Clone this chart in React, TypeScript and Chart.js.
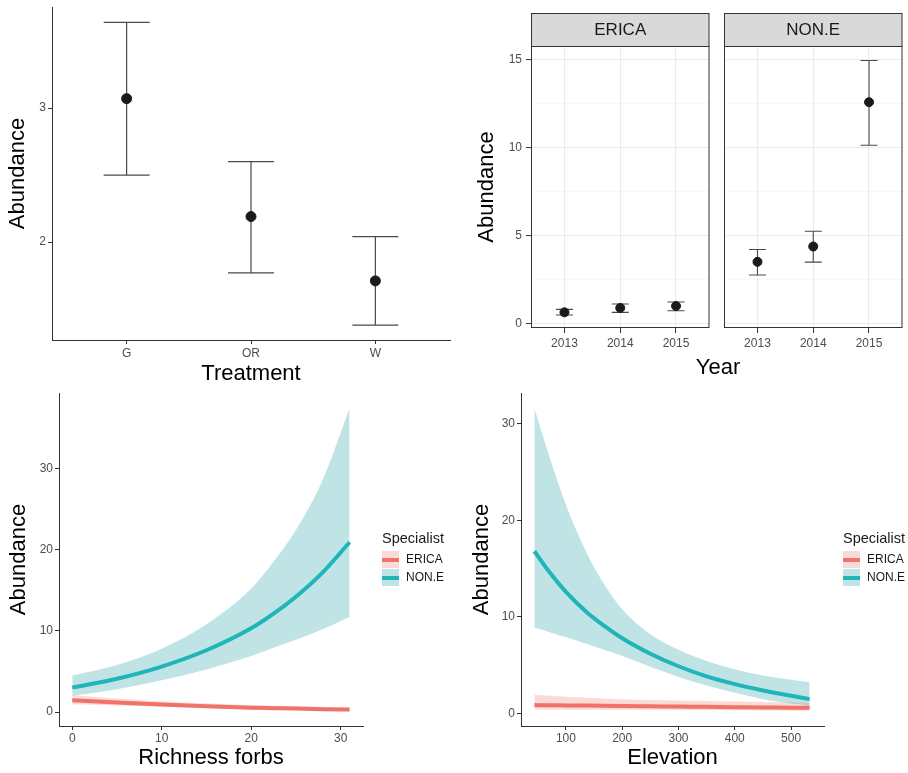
import React, { useEffect, useRef } from 'react';
import { Chart, registerables } from 'chart.js';

Chart.register(...registerables);

// ---------------- data ----------------
const treatments = ['G', 'OR', 'W'];
const treatmentMean = [3.07, 2.19, 1.71];
const treatmentLower = [2.5, 1.77, 1.38];
const treatmentUpper = [3.64, 2.6, 2.04];
const treatmentYTicks = [2, 3];

const years = [2013, 2014, 2015];
const ericaYearMean = [0.66, 0.91, 1.02];
const ericaYearLower = [0.51, 0.66, 0.75];
const ericaYearUpper = [0.83, 1.13, 1.25];
const noneYearMean = [3.53, 4.4, 12.6];
const noneYearLower = [2.78, 3.51, 10.15];
const noneYearUpper = [4.23, 5.27, 14.97];
const yearYTicks = [0, 2.5, 5, 7.5, 10, 12.5, 15];

const richness = [0, 5, 10, 15, 20, 22.5, 25, 28, 31];
const richNoneFit = [3.0, 4.1, 5.6, 7.6, 10.3, 12.1, 14.2, 17.2, 20.9];
const richNoneUpper = [4.5, 5.8, 7.8, 10.8, 15.2, 18.5, 22.4, 28.6, 37.4];
const richNoneLower = [2.0, 2.8, 3.9, 5.25, 6.9, 7.9, 8.9, 10.2, 11.7];
const richEricaFit = [1.45, 1.18, 0.94, 0.72, 0.54, 0.48, 0.42, 0.35, 0.3];
const richEricaUpper = [2.1, 1.65, 1.3, 1.05, 0.85, 0.77, 0.7, 0.62, 0.55];
const richEricaLower = [0.95, 0.8, 0.65, 0.5, 0.35, 0.3, 0.25, 0.2, 0.15];
const richXTicks = [0, 10, 20, 30];
const richYTicks = [0, 10, 20, 30];

const elevation = [44, 70, 100, 137, 170, 200, 250, 300, 350, 400, 450, 500, 533];
const elevNoneFit = [16.8, 14.7, 12.6, 10.5, 9.0, 7.8, 6.2, 4.9, 3.85, 3.05, 2.4, 1.85, 1.5];
const elevNoneUpper = [31.6, 26.7, 21.6, 16.6, 13.2, 10.8, 8.2, 6.6, 5.45, 4.6, 3.95, 3.5, 3.25];
const elevNoneLower = [8.9, 8.45, 7.9, 7.2, 6.55, 5.95, 4.85, 3.8, 2.9, 2.15, 1.5, 1.05, 0.85];
const elevEricaFit = [0.88, 0.87, 0.85, 0.83, 0.81, 0.79, 0.76, 0.73, 0.7, 0.67, 0.64, 0.62, 0.6];
const elevEricaUpper = [1.95, 1.85, 1.75, 1.65, 1.55, 1.5, 1.42, 1.35, 1.3, 1.25, 1.2, 1.16, 1.15];
const elevEricaLower = [0.42, 0.42, 0.41, 0.41, 0.4, 0.4, 0.39, 0.38, 0.36, 0.35, 0.33, 0.31, 0.3];
const elevXTicks = [100, 200, 300, 400, 500];
const elevYTicks = [0, 10, 20, 30];

const specialists = ['ERICA', 'NON.E'];

// ---------------- styles ----------------
const FONT = "'Liberation Sans', Arial, Helvetica, sans-serif";
const TEAL = '#1fb5b9';
const RED = '#f17268';
const TEAL_FILL = 'rgba(45,165,172,0.3)';
const RED_FILL = 'rgba(240,110,100,0.25)';
const TICK_TEXT = '#4d4d4d';
const AXIS = '#333333';
const TITLE = '#000000';

Chart.defaults.font.family = FONT;

const fixedTicks = (values: number[]) => (scale: any) => {
  scale.ticks = values.map((v) => ({ value: v }));
};
const zeroPad = (s: any) => {
  s.paddingTop = 0;
  s.paddingBottom = 0;
  s.paddingLeft = 0;
  s.paddingRight = 0;
};
const fitWidth = (w: number) => (s: any) => {
  s.width = w;
  zeroPad(s);
};
const fitHeight = (h: number) => (s: any) => {
  s.height = h;
  zeroPad(s);
};

// ---------------- plugins ----------------
const errorBarPlugin = {
  id: 'errorBars',
  beforeDatasetsDraw(chart: any, _a: any, opts: any) {
    const { ctx } = chart;
    chart.data.datasets.forEach((ds: any, i: number) => {
      if (!ds.errorBars) return;
      const meta = chart.getDatasetMeta(i);
      const xs = chart.scales[meta.xAxisID];
      const ys = chart.scales[meta.yAxisID];
      ctx.save();
      ctx.strokeStyle = opts.color;
      ctx.lineWidth = opts.width;
      const hw = opts.capWidth / 2;
      ds.data.forEach((d: any) => {
        const x = xs.getPixelForValue(d.x);
        const y1 = ys.getPixelForValue(d.lo);
        const y2 = ys.getPixelForValue(d.hi);
        ctx.beginPath();
        ctx.moveTo(x, y1);
        ctx.lineTo(x, y2);
        ctx.moveTo(x - hw, y1);
        ctx.lineTo(x + hw, y1);
        ctx.moveTo(x - hw, y2);
        ctx.lineTo(x + hw, y2);
        ctx.stroke();
      });
      ctx.restore();
    });
  },
};

const facetPlugin = {
  id: 'facet',
  afterDatasetsDraw(chart: any, _a: any, opts: any) {
    const { ctx, chartArea: ca } = chart;
    ctx.save();
    ctx.strokeStyle = AXIS;
    ctx.lineWidth = 1;
    ctx.strokeRect(ca.left + 0.5, ca.top + 0.5, ca.right - ca.left - 1, ca.bottom - ca.top - 1);
    const top = opts.stripTop;
    const h = ca.top - top;
    ctx.fillStyle = '#d9d9d9';
    ctx.fillRect(ca.left + 0.5, top + 0.5, ca.right - ca.left - 1, h);
    ctx.strokeRect(ca.left + 0.5, top + 0.5, ca.right - ca.left - 1, h);
    ctx.fillStyle = '#1a1a1a';
    ctx.font = `17px ${FONT}`;
    ctx.textAlign = 'center';
    ctx.textBaseline = 'middle';
    ctx.fillText(opts.label, (ca.left + ca.right) / 2, top + h / 2 + 1);
    ctx.restore();
  },
};

// ---------------- helpers ----------------
function ChartBox({ left, top, width, height, make }: any) {
  const ref = useRef<HTMLCanvasElement>(null);
  useEffect(() => {
    const chart = new Chart(ref.current as HTMLCanvasElement, make());
    return () => chart.destroy();
  }, []);
  return (
    <canvas
      ref={ref}
      width={width}
      height={height}
      style={{ position: 'absolute', left, top, width, height }}
    />
  );
}

const tickFont = { family: FONT, size: 12 };
const titleFont = { family: FONT, size: 22 };

const classicX = (min: number, max: number, ticks: number[], h: number, title: string, cb: any, pb: number, pad: number) => ({
  type: 'linear',
  min,
  max,
  afterBuildTicks: fixedTicks(ticks),
  afterFit: fitHeight(h),
  ticks: { callback: cb, color: TICK_TEXT, font: tickFont, padding: pad, maxRotation: 0, autoSkip: false },
  grid: { drawOnChartArea: false, drawTicks: true, tickLength: 4, color: AXIS, tickWidth: 1 },
  border: { display: true, color: AXIS, width: 1 },
  title: { display: true, text: title, color: TITLE, font: titleFont, padding: { top: 0, bottom: pb } },
});

const classicY = (min: number, max: number, ticks: number[], w: number, pt: number) => ({
  type: 'linear',
  min,
  max,
  afterBuildTicks: fixedTicks(ticks),
  afterFit: fitWidth(w),
  ticks: { callback: (v: number) => String(v), color: TICK_TEXT, font: tickFont, padding: 2 },
  grid: { drawOnChartArea: false, drawTicks: true, tickLength: 4, color: AXIS, tickWidth: 1 },
  border: { display: true, color: AXIS, width: 1 },
  title: { display: true, text: 'Abundance', color: TITLE, font: titleFont, padding: { top: pt, bottom: 0 } },
});

const basePlugins = { legend: { display: false }, tooltip: { enabled: false } };

// ---------------- chart configs ----------------
const makeTreatment = () => ({
  type: 'scatter',
  data: {
    datasets: [
      {
        data: treatments.map((_t, i) => ({ x: i + 1, y: treatmentMean[i], lo: treatmentLower[i], hi: treatmentUpper[i] })),
        errorBars: true,
        pointRadius: 5,
        pointHoverRadius: 5,
        backgroundColor: '#1a1a1a',
        borderColor: '#1a1a1a',
      },
    ],
  },
  plugins: [errorBarPlugin],
  options: {
    responsive: false,
    animation: false,
    events: [],
    layout: { padding: { left: 0, top: 7, right: 10, bottom: 0 } },
    plugins: { ...basePlugins, errorBars: { color: '#4a4a4a', width: 1.2, capWidth: 46 } },
    scales: {
      x: classicX(0.4, 3.6, [1, 2, 3], 50, 'Treatment', (v: number) => treatments[v - 1], 3, 2),
      y: classicY(1.269, 3.754, treatmentYTicks, 52, 5),
    },
  },
});

const isMinor = (c: any) => c.tick && Math.abs(c.tick.value % 5) > 1e-6;

const makeYearFacet = (label: string, mean: number[], lower: number[], upper: number[], first: boolean) => ({
  type: 'scatter',
  data: {
    datasets: [
      {
        data: years.map((y, i) => ({ x: y, y: mean[i], lo: lower[i], hi: upper[i] })),
        errorBars: true,
        pointRadius: 4.5,
        pointHoverRadius: 4.5,
        backgroundColor: '#1a1a1a',
        borderColor: '#1a1a1a',
      },
    ],
  },
  plugins: [errorBarPlugin, facetPlugin],
  options: {
    responsive: false,
    animation: false,
    events: [],
    layout: { padding: { left: 0, top: 46, right: first ? 2 : 1, bottom: 0 } },
    plugins: {
      ...basePlugins,
      errorBars: { color: '#4a4a4a', width: 1.1, capWidth: 17 },
      facet: { label, stripTop: 13 },
    },
    scales: {
      x: {
        type: 'linear',
        min: 2012.4,
        max: 2015.6,
        afterBuildTicks: fixedTicks(years),
        afterFit: fitHeight(62),
        ticks: { callback: (v: number) => String(v), color: TICK_TEXT, font: tickFont, padding: 3, maxRotation: 0, autoSkip: false },
        grid: { drawOnChartArea: true, drawTicks: true, tickLength: 5, color: '#ebebeb', lineWidth: 1.1, tickColor: AXIS, tickWidth: 1 },
        border: { display: false },
      },
      y: {
        type: 'linear',
        min: -0.23,
        max: 15.79,
        afterBuildTicks: fixedTicks(yearYTicks),
        afterFit: fitWidth(first ? 71 : 9),
        ticks: {
          display: first,
          callback: (v: number) => (Math.abs(v % 5) < 1e-6 ? String(v) : ''),
          color: TICK_TEXT,
          font: tickFont,
          padding: 4,
        },
        grid: {
          drawOnChartArea: true,
          drawTicks: first,
          tickLength: 5,
          color: (c: any) => (isMinor(c) ? '#f2f2f2' : '#ebebeb'),
          lineWidth: (c: any) => (isMinor(c) ? 0.6 : 1.1),
          tickColor: (c: any) => (isMinor(c) ? 'rgba(0,0,0,0)' : AXIS),
          tickWidth: 1,
        },
        border: { display: false },
        title: first
          ? { display: true, text: 'Abundance', color: TITLE, font: titleFont, padding: { top: 14, bottom: 0 } }
          : { display: false },
      },
    },
  },
});

const band = (xs: number[], ys: number[], fill: any, color: string, order: number) => ({
  data: xs.map((x, i) => ({ x, y: ys[i] })),
  fill,
  backgroundColor: color,
  borderColor: 'rgba(0,0,0,0)',
  borderWidth: 0,
  pointRadius: 0,
  cubicInterpolationMode: 'monotone',
  order,
});
const fitLine = (xs: number[], ys: number[], color: string, order: number) => ({
  data: xs.map((x, i) => ({ x, y: ys[i] })),
  fill: false,
  borderColor: color,
  backgroundColor: color,
  borderWidth: 4,
  pointRadius: 0,
  cubicInterpolationMode: 'monotone',
  order,
});

const makeCurve = (
  xs: number[],
  eFit: number[], eUp: number[], eLo: number[],
  nFit: number[], nUp: number[], nLo: number[],
  xMin: number, xMax: number, xTicks: number[],
  yMin: number, yMax: number, yTicks: number[],
  yw: number, padRight: number, xTitle: string, ypt: number,
) => ({
  type: 'line',
  data: {
    datasets: [
      band(xs, eUp, '+1', RED_FILL, 3),
      band(xs, eLo, false, RED_FILL, 3),
      band(xs, nUp, '+1', TEAL_FILL, 2),
      band(xs, nLo, false, TEAL_FILL, 2),
      fitLine(xs, eFit, RED, 1),
      fitLine(xs, nFit, TEAL, 0),
    ],
  },
  options: {
    responsive: false,
    animation: false,
    events: [],
    layout: { padding: { left: 0, top: 13, right: padRight, bottom: 0 } },
    plugins: { ...basePlugins, filler: { propagate: false } },
    scales: {
      x: classicX(xMin, xMax, xTicks, 47, xTitle, (v: number) => String(v), 1.5, 1),
      y: classicY(yMin, yMax, yTicks, yw, ypt),
    },
  },
});

// ---------------- legend ----------------
function Legend({ left }: { left: number }) {
  const rows = [
    { label: specialists[0], fill: RED_FILL, line: RED },
    { label: specialists[1], fill: TEAL_FILL, line: TEAL },
  ];
  return (
    <div style={{ position: 'absolute', left, top: 529, fontFamily: FONT }}>
      <div style={{ fontSize: 14.5, lineHeight: '18px', color: '#1a1a1a', whiteSpace: 'nowrap' }}>Specialist</div>
      {rows.map((r, i) => (
        <div key={r.label} style={{ position: 'absolute', left: 0, top: 22 + i * 18, width: 80, height: 17 }}>
          <div style={{ position: 'absolute', left: 0, top: 0, width: 17, height: 17, background: r.fill }}>
            <div style={{ position: 'absolute', left: 0, top: 6.5, width: 17, height: 4, background: r.line }} />
          </div>
          <div
            style={{
              position: 'absolute',
              left: 24,
              top: 0,
              height: 17,
              lineHeight: '17px',
              fontSize: 12,
              color: '#1a1a1a',
              whiteSpace: 'nowrap',
            }}
          >
            {r.label}
          </div>
        </div>
      ))}
    </div>
  );
}

export default function App() {
  return (
    <div style={{ position: 'absolute', left: 0, top: 0, width: 908, height: 773, background: '#fff', overflow: 'hidden' }}>
      <ChartBox left={0} top={0} width={460} height={390} make={makeTreatment} />
      <ChartBox
        left={460}
        top={0}
        width={255}
        height={390}
        make={() => makeYearFacet('ERICA', ericaYearMean, ericaYearLower, ericaYearUpper, true)}
      />
      <ChartBox
        left={715}
        top={0}
        width={193}
        height={390}
        make={() => makeYearFacet('NON.E', noneYearMean, noneYearLower, noneYearUpper, false)}
      />
      <div
        style={{
          position: 'absolute',
          left: 618,
          top: 354,
          width: 200,
          textAlign: 'center',
          fontFamily: FONT,
          fontSize: 22,
          lineHeight: '26px',
          color: TITLE,
        }}
      >
        Year
      </div>
      <ChartBox
        left={0}
        top={380}
        width={460}
        height={393}
        make={() =>
          makeCurve(
            richness, richEricaFit, richEricaUpper, richEricaLower, richNoneFit, richNoneUpper, richNoneLower,
            -1.48, 32.5, richXTicks, -1.72, 39.27, richYTicks, 59, 97, 'Richness forbs', 6,
          )
        }
      />
      <ChartBox
        left={460}
        top={380}
        width={448}
        height={393}
        make={() =>
          makeCurve(
            elevation, elevEricaFit, elevEricaUpper, elevEricaLower, elevNoneFit, elevNoneUpper, elevNoneLower,
            20.2, 558.5, elevXTicks, -1.28, 33.17, elevYTicks, 61, 84, 'Elevation', 8.5,
          )
        }
      />
      <Legend left={382} />
      <Legend left={843} />
    </div>
  );
}
